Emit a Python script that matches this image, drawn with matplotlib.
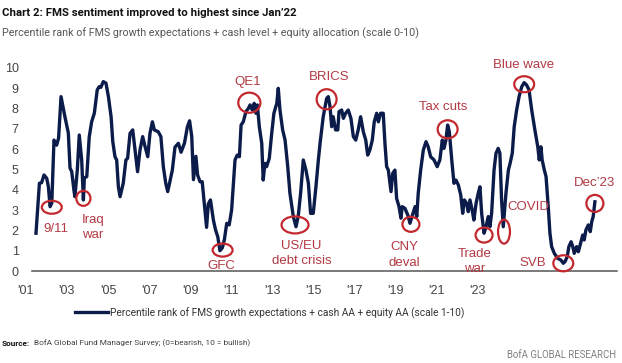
"""FMS sentiment chart (BofA Chart 2) recreated with matplotlib."""
import matplotlib
matplotlib.use('Agg')
import matplotlib.pyplot as plt
from matplotlib.patches import Ellipse
from matplotlib.font_manager import FontProperties

NARROW = 'Roboto'
REG = 'Liberation Sans'

# ── data ──────────────────────────────────────────────
years = [
    2001.10, 2001.24, 2001.33, 2001.43, 2001.54, 2001.61, 2001.68, 2001.75, 2001.84, 2001.95,
    2002.03, 2002.13, 2002.29, 2002.43, 2002.50, 2002.57, 2002.66, 2002.70, 2002.80, 2002.88,
    2002.98, 2003.05, 2003.09, 2003.19, 2003.29, 2003.39, 2003.50, 2003.62, 2003.70, 2003.77,
    2003.87, 2003.98, 2004.08, 2004.19, 2004.26, 2004.35, 2004.42, 2004.49, 2004.56, 2004.69,
    2004.80, 2004.87, 2004.97, 2005.08, 2005.28, 2005.38, 2005.49, 2005.59, 2005.70, 2005.79,
    2005.89, 2005.97, 2006.13, 2006.24, 2006.34, 2006.44, 2006.52, 2006.61, 2006.71, 2006.82,
    2006.96, 2007.07, 2007.21, 2007.33, 2007.42, 2007.51, 2007.58, 2007.68, 2007.75, 2007.85,
    2007.94, 2008.05, 2008.12, 2008.19, 2008.28, 2008.40, 2008.49, 2008.58, 2008.67, 2008.77,
    2008.85, 2008.95, 2009.05, 2009.15, 2009.29, 2009.38, 2009.47, 2009.54, 2009.63, 2009.74,
    2009.84, 2009.91, 2010.00, 2010.08, 2010.15, 2010.21, 2010.29, 2010.39, 2010.45, 2010.52,
    2010.59, 2010.70, 2010.80, 2010.89, 2011.01, 2011.07, 2011.14, 2011.25, 2011.35, 2011.46,
    2011.55, 2011.69, 2011.80, 2011.89, 2011.99, 2012.10, 2012.21, 2012.31, 2012.40, 2012.51,
    2012.62, 2012.72, 2012.79, 2012.92, 2013.06, 2013.13, 2013.20, 2013.27, 2013.33, 2013.43,
    2013.52, 2013.57, 2013.68, 2013.75, 2013.84, 2013.95, 2014.06, 2014.16, 2014.26, 2014.36,
    2014.46, 2014.57, 2014.67, 2014.75, 2014.84, 2014.94, 2015.02, 2015.12, 2015.19, 2015.28,
    2015.39, 2015.46, 2015.53, 2015.60, 2015.71, 2015.78, 2015.87, 2015.94, 2016.04, 2016.12,
    2016.17, 2016.28, 2016.40, 2016.49, 2016.59, 2016.70, 2016.77, 2016.83, 2016.93, 2017.04,
    2017.15, 2017.24, 2017.34, 2017.48, 2017.61, 2017.72, 2017.82, 2017.89, 2017.97, 2018.04,
    2018.11, 2018.21, 2018.30, 2018.38, 2018.48, 2018.58, 2018.66, 2018.73, 2018.82, 2018.89,
    2018.96, 2019.05, 2019.12, 2019.21, 2019.30, 2019.37, 2019.44, 2019.54, 2019.62, 2019.71,
    2019.78, 2019.85, 2019.95, 2020.03, 2020.12, 2020.19, 2020.26, 2020.33, 2020.44, 2020.54,
    2020.61, 2020.70, 2020.78, 2020.88, 2020.98, 2021.09, 2021.19, 2021.29, 2021.39, 2021.50,
    2021.63, 2021.75, 2021.81, 2021.88, 2021.93, 2022.02, 2022.09, 2022.18, 2022.25, 2022.32,
    2022.43, 2022.57, 2022.70, 2022.80, 2022.87, 2022.96, 2023.03, 2023.12, 2023.19, 2023.25,
    2023.35, 2023.42, 2023.53, 2023.60, 2023.66, 2023.73, 2023.83, 2023.91, 2023.97, 2024.03,
    2024.10,
]
sentiment = [
    1.86, 4.32, 4.35, 4.73, 4.57, 4.15, 3.17, 3.35, 6.45, 6.20,
    6.55, 8.59, 7.60, 6.80, 5.07, 4.90, 3.99, 3.66, 4.97, 6.70,
    5.47, 3.50, 4.58, 4.65, 6.60, 7.35, 7.77, 8.92, 9.08, 9.05,
    9.33, 9.25, 8.59, 7.60, 6.37, 5.63, 5.47, 4.15, 3.66, 4.32,
    5.47, 5.55, 6.78, 6.95, 4.89, 5.96, 6.62, 6.12, 5.63, 6.78,
    7.35, 6.95, 6.86, 6.62, 5.14, 4.32, 3.91, 4.40, 4.97, 6.10,
    6.29, 5.85, 6.30, 7.10, 7.40, 6.62, 4.50, 5.65, 4.73, 4.40,
    4.40, 3.00, 2.15, 3.30, 3.50, 2.51, 2.02, 1.69, 1.00, 1.15,
    1.53, 2.35, 2.27, 3.00, 5.47, 5.71, 5.63, 7.19, 7.35, 7.85,
    8.01, 8.18, 7.93, 8.26, 7.77, 8.18, 7.11, 6.29, 4.48, 5.30,
    5.14, 5.55, 6.78, 7.77, 8.26, 9.00, 7.93, 6.95, 6.45, 5.14,
    3.83, 2.68, 2.18, 2.68, 3.83, 5.47, 4.97, 4.32, 2.84, 2.84,
    4.15, 5.47, 6.29, 7.60, 8.50, 8.59, 8.09, 7.11, 7.60, 6.95,
    6.95, 7.85, 7.93, 7.52, 7.77, 7.93, 7.52, 6.62, 6.45, 6.95,
    7.60, 6.86, 6.45, 5.71, 5.96, 6.45, 7.35, 7.77, 7.35, 7.77,
    7.77, 6.29, 5.14, 4.97, 3.91, 4.81, 4.97, 3.58, 3.17, 2.60,
    3.17, 3.09, 2.76, 2.35, 2.75, 3.17, 2.68, 3.83, 4.97, 5.96,
    6.37, 6.12, 5.63, 5.47, 5.14, 5.47, 6.45, 6.04, 6.45, 7.19,
    6.86, 5.47, 4.32, 4.48, 4.24, 3.74, 2.84, 3.50, 3.33, 2.92,
    3.50, 3.00, 2.51, 3.33, 3.83, 4.15, 2.84, 1.86, 2.18, 2.68,
    2.18, 2.84, 4.97, 5.80, 6.04, 5.80, 3.50, 2.18, 3.83, 4.97,
    5.30, 5.80, 7.11, 7.93, 8.59, 9.08, 9.28, 9.16, 8.92, 7.93,
    6.95, 6.12, 5.47, 6.12, 5.47, 4.97, 4.65, 3.17, 1.86, 1.20,
    0.87, 0.62, 0.54, 0.38, 0.46, 0.70, 1.20, 1.44, 1.20, 0.87,
    1.20, 0.95, 1.44, 1.77, 1.53, 2.02, 2.27, 1.94, 2.43, 2.68,
    3.41,
]

tick_labels = ["'01", "'03", "'05", "'07", "'09", "'11", "'13", "'15", "'17", "'19", "'21", "'23"]
y_ticks = list(range(0, 11))

# event label, circled point (x, y)
event_names = ['9/11', 'Iraq\nwar', 'GFC', 'QE1', 'US/EU\ndebt crisis', 'BRICS', 'CNY\ndeval',
               'Tax cuts', 'Trade\nwar', 'COVID', 'Blue wave', 'SVB', 'Dec\u201923']
event_x = [2001.75, 2003.05, 2008.78, 2009.88, 2011.76, 2013.06, 2016.53,
           2018.04, 2019.54, 2020.36, 2021.19, 2022.80, 2024.10]
event_y = [3.14, 3.58, 1.03, 8.29, 2.27, 8.46, 2.30, 6.98, 1.77, 1.94, 9.20, 0.38, 3.33]

# label placement (x, y, ha) and ellipse size (w in years, h in scale units)
label_pos = [(2001.92, 2.07, 'center'), (2002.99, 2.14, 'left'), (2008.74, 0.25, 'center'),
             (2009.81, 9.33, 'center'), (2012.03, 0.87, 'center'), (2013.16, 9.57, 'center'),
             (2016.24, 0.79, 'center'), (2017.86, 8.09, 'center'), (2019.16, 0.46, 'center'),
             (2021.36, 3.17, 'center'), (2021.15, 10.15, 'center'), (2021.56, 0.38, 'center'),
             (2024.07, 4.32, 'center')]
ring_size = [(0.82, 0.64), (0.58, 0.74), (0.82, 0.64), (0.91, 0.99), (1.11, 0.84), (0.82, 0.99),
             (0.70, 0.74), (0.82, 0.89), (0.70, 0.74), (0.49, 1.18), (0.82, 0.79), (0.82, 0.79),
             (0.70, 0.84)]

NAVY = '#0c1c4a'
RED = '#c4282f'
RED_TXT = '#b23a44'
GREY = '#444444'

# ── figure ─────────────────────────────────────────────
W, H = 622, 363
fig = plt.figure(figsize=(W / 100, H / 100), dpi=100)
x_left, x_right = 2000.5, 2025.01
px_left = 36 + (x_left - 2001.1) / 0.04115
ax = fig.add_axes([px_left / W, (H - 271) / H, (617 - px_left) / W, (271 - 68) / H])

line, = ax.plot(years, sentiment, color=NAVY, lw=2.4, solid_joinstyle='round', zorder=3,
                label='Percentile rank of FMS growth expectations + cash AA + equity AA (scale 1-10)')

ax.set_xlim(x_left, x_right)
ax.set_ylim(0, 10)

tick_start, tick_step = 2000.68, 1.691
ax.set_xticks([tick_start + i * tick_step for i in range(len(tick_labels))])
ax.set_xticklabels(tick_labels)
ax.set_yticks(y_ticks)
ax.tick_params(axis='both', length=0, labelsize=9, labelcolor=GREY)
ax.tick_params(axis='x', pad=10)
ax.tick_params(axis='y', pad=2)
for lab in ax.get_xticklabels() + ax.get_yticklabels():
    lab.set_family(REG)

for s in ['top', 'right', 'left']:
    ax.spines[s].set_visible(False)
ax.spines['bottom'].set_color('#555555')
ax.spines['bottom'].set_linewidth(1.1)
ax.spines['bottom'].set_bounds(2000.94, x_right)

for name, (ex, ey), (tx, ty, ha), (w, h) in zip(event_names, zip(event_x, event_y), label_pos, ring_size):
    ax.add_patch(Ellipse((ex, ey), w, h, fill=False, ec=RED, lw=1.6, zorder=4, clip_on=False))
    ax.text(tx, ty, name, ha=ha, va='center', color=RED_TXT, fontsize=9.5, family=REG,
            linespacing=1.35, zorder=5, clip_on=False)

# titles
title = fig.text(2 / W, 1 - 13 / H, 'Chart 2: FMS sentiment improved to highest since Jan\u201922',
                 family=NARROW, weight='bold', fontsize=10, va='center', ha='left', color='#111111')
subtitle = fig.text(2 / W, 1 - 33 / H,
                    'Percentile rank of FMS growth expectations + cash level + equity allocation (scale 0-10)',
                    family=NARROW, fontsize=9.2, va='center', ha='left', color='#555555')

leg = fig.legend(handles=[line], loc='center', bbox_to_anchor=(269.5 / W, 1 - 313 / H),
                 frameon=False, handlelength=2.6, handletextpad=0.1, labelcolor='#333333',
                 prop=FontProperties(family=NARROW, size=9.2))

src = fig.text(2 / W, 1 - 343 / H, 'Source:', family=NARROW, weight='bold', fontsize=6.8,
               va='center', ha='left', color='#111111')
src_rest = ax.annotate('  BofA Global Fund Manager Survey; (0=bearish, 10 = bullish)', xy=(1, 0.5),
                       xycoords=src, va='center', ha='left', family=NARROW, fontsize=6.8,
                       color='#444444')
brand = fig.text(616 / W, 1 - 355 / H, 'BofA GLOBAL RESEARCH', family=NARROW, fontsize=7,
                 va='center', ha='right', color='#808080')

# shrink the condensed-style texts to the widths they take in the original
renderer = fig.canvas.get_renderer()
for t, target in [(title, 293), (subtitle, 415), (leg.get_texts()[0], 351), (brand, 110)]:
    w = t.get_window_extent(renderer).width
    t.set_fontsize(t.get_fontsize() * target / w)
w_src = src.get_window_extent(renderer).x1 - src.get_window_extent(renderer).x0 \
    + src_rest.get_window_extent(renderer).width
for t in (src, src_rest):
    t.set_fontsize(t.get_fontsize() * 250 / w_src)

fig.savefig('out.png', dpi=100)
plt.close(fig)
print('Saved: out.png')
